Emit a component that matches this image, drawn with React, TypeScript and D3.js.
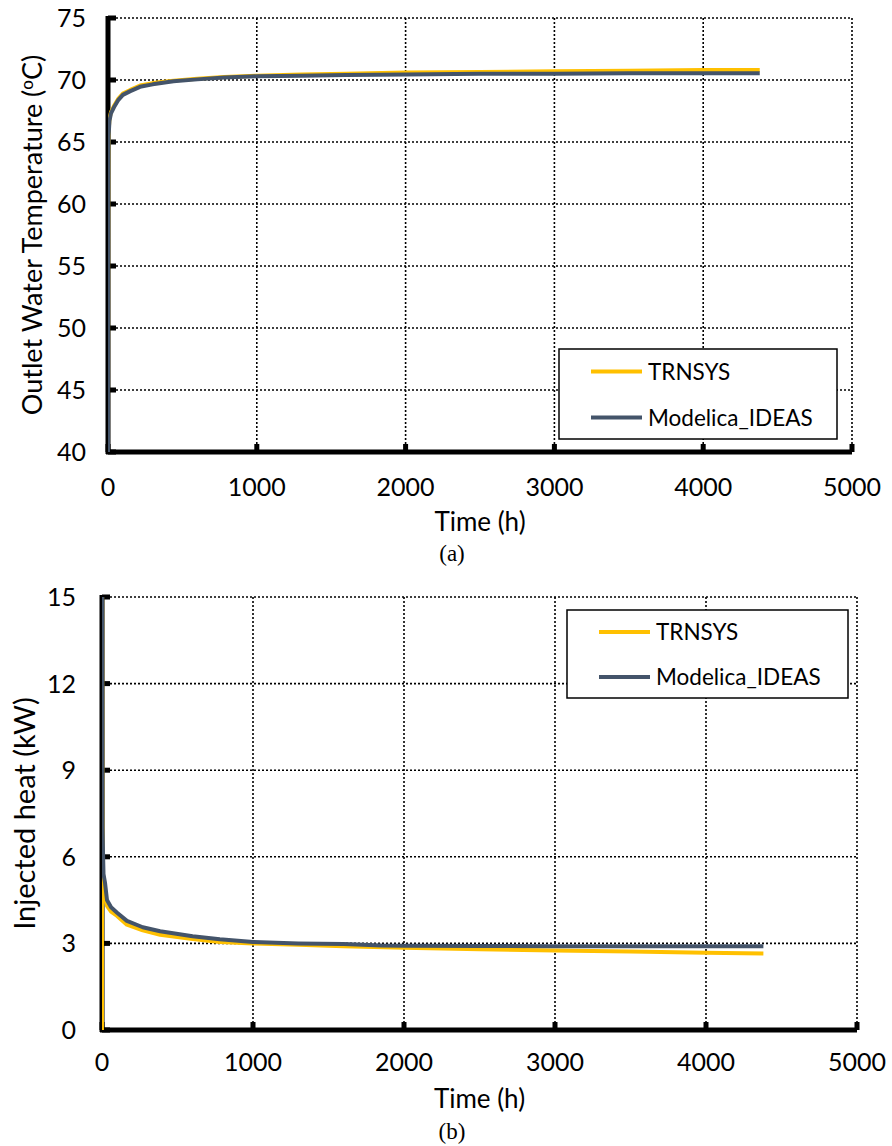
import React from "react";
import * as d3 from "d3";

const timeTicks = [0, 1000, 2000, 3000, 4000, 5000];
const tempTicks = [40, 45, 50, 55, 60, 65, 70, 75];
const heatTicks = [0, 3, 6, 9, 12, 15];
const seriesNames = ["TRNSYS", "Modelica_IDEAS"];
const seriesColors = ["#FFC000", "#44546A"];

// (a) outlet water temperature
const tempTimeTrnsys = [0, 1, 2, 4, 10, 20, 40, 70, 100, 150, 215, 300, 440, 600, 780, 1000, 1300, 1600, 2000, 2500, 3000, 3500, 4000, 4380];
const tempTrnsys = [40, 56, 62.5, 65.8, 66.9, 67.4, 67.9, 68.5, 68.9, 69.2, 69.55, 69.75, 69.95, 70.1, 70.25, 70.35, 70.45, 70.5, 70.6, 70.65, 70.7, 70.75, 70.8, 70.8];
const tempTimeIdeas = [0, 1, 2, 4, 10, 20, 40, 70, 100, 150, 215, 300, 440, 600, 780, 1000, 1300, 1600, 2000, 2500, 3000, 3500, 4000, 4380];
const tempIdeas = [40, 55, 62, 65.5, 66.7, 67.3, 67.8, 68.4, 68.8, 69.1, 69.45, 69.65, 69.9, 70.05, 70.2, 70.3, 70.35, 70.4, 70.45, 70.5, 70.5, 70.55, 70.55, 70.55];

// (b) injected heat
const heatTimeTrnsys = [0, 1, 3, 10, 20, 33, 60, 100, 165, 270, 385, 600, 780, 1000, 1300, 1600, 2000, 2500, 3000, 3500, 4000, 4380];
const heatTrnsys = [0, 15.5, 6, 4.9, 4.6, 4.3, 4.1, 3.95, 3.65, 3.45, 3.3, 3.15, 3.05, 3.0, 2.95, 2.9, 2.85, 2.8, 2.75, 2.72, 2.68, 2.65];
const heatTimeIdeas = [0, 1, 3, 10, 20, 33, 60, 100, 165, 270, 385, 600, 780, 1000, 1300, 1600, 1850, 2000, 2500, 3000, 3500, 4000, 4380];
const heatIdeas = [16, 16, 7, 5.4, 5.1, 4.5, 4.25, 4.06, 3.78, 3.56, 3.42, 3.25, 3.14, 3.05, 3.0, 2.98, 2.93, 2.92, 2.91, 2.9, 2.9, 2.9, 2.9];

const FONT = "Lato, 'Open Sans', sans-serif";

type Series = { t: number[]; v: number[] };

function Panel(props: {
  id: string;
  x0: number; x1: number; y0: number; y1: number;
  yDomain: [number, number];
  yTicks: number[];
  yLabelX: number;
  yTitle: React.ReactNode;
  yTitleX: number;
  yTitleSize: number;
  series: Series[];
  legend: { x: number; y: number; w: number; h: number };
  xLabelY: number;
  xTitleY: number;
  caption: string;
  captionY: number;
}) {
  const { x0, x1, y0, y1 } = props;
  const xs = d3.scaleLinear().domain([0, 5000]).range([x0, x1]);
  const ys = d3.scaleLinear().domain(props.yDomain).range([y1, y0]);
  const line = (s: Series) =>
    d3.line<number>().x((_, i) => xs(s.t[i])).y((d) => ys(d))(s.v) || "";
  const cx = (x0 + x1) / 2;
  const lg = props.legend;
  return (
    <g>
      <defs>
        <clipPath id={props.id}>
          <rect x={x0} y={y0} width={x1 - x0} height={y1 - y0} />
        </clipPath>
      </defs>
      {/* grid */}
      {props.yTicks.filter((t) => t !== props.yDomain[0]).map((t) => (
        <line key={"gy" + t} x1={x0} x2={x1} y1={ys(t)} y2={ys(t)} stroke="#000" strokeWidth={1.6} strokeDasharray="2,2" />
      ))}
      {timeTicks.filter((t) => t !== 0).map((t) => (
        <line key={"gx" + t} x1={xs(t)} x2={xs(t)} y1={y0} y2={y1} stroke="#000" strokeWidth={1.6} strokeDasharray="2,2" />
      ))}
      {/* axes */}
      <line x1={x0} x2={x0} y1={y0 - 2} y2={y1 + 2} stroke="#000" strokeWidth={5} />
      <line x1={x0 - 2} x2={x1} y1={y1} y2={y1} stroke="#000" strokeWidth={5} />
      {props.yTicks.map((t) => (
        <rect key={"ty" + t} x={x0} y={ys(t) - 2.5} width={8} height={5} fill="#000" />
      ))}
      {timeTicks.map((t) => (
        <rect key={"tx" + t} x={xs(t) - 2.5} y={y1 - 8} width={5} height={8} fill="#000" />
      ))}
      {/* data */}
      <g clipPath={`url(#${props.id})`}>
        {props.series.map((s, i) => (
          <path key={i} d={line(s)} fill="none" stroke={seriesColors[i]} strokeWidth={4} strokeLinejoin="round" />
        ))}
      </g>
      {/* tick labels */}
      {props.yTicks.map((t) => (
        <text key={"ly" + t} x={props.yLabelX} y={ys(t)} dy="0.36em" textAnchor="end" fontFamily={FONT} fontSize={25} fill="#000">
          {t}
        </text>
      ))}
      {timeTicks.map((t) => (
        <text key={"lx" + t} x={xs(t)} y={props.xLabelY} textAnchor="middle" fontFamily={FONT} fontSize={25} fill="#000">
          {t}
        </text>
      ))}
      <text x={cx} y={props.xTitleY} textAnchor="middle" fontFamily={FONT} fontSize={26} fill="#000">
        Time (h)
      </text>
      <text x={452} y={props.captionY} textAnchor="middle" fontFamily="'Liberation Serif', 'Times New Roman', serif" fontSize={23} fill="#000">
        {props.caption}
      </text>
      <text transform={`translate(${props.yTitleX},${(y0 + y1) / 2}) rotate(-90)`} textAnchor="middle" fontFamily={FONT} fontSize={props.yTitleSize} fill="#000">
        {props.yTitle}
      </text>
      {/* legend */}
      <rect x={lg.x} y={lg.y} width={lg.w} height={lg.h} fill="#fff" stroke="#000" strokeWidth={1.5} />
      {seriesNames.map((n, i) => {
        const ly = lg.y + lg.h * (i === 0 ? 0.25 : 0.76);
        return (
          <g key={n}>
            <line x1={lg.x + 32} x2={lg.x + 83} y1={ly} y2={ly} stroke={seriesColors[i]} strokeWidth={4} />
            <text x={lg.x + 89} y={ly} dy="0.36em" fontFamily={FONT} fontSize={22.5} fill="#000">
              {n}
            </text>
          </g>
        );
      })}
    </g>
  );
}

export default function App() {
  return (
    <svg width={892} height={1146} style={{ position: "absolute", left: 0, top: 0, background: "#fff" }}>
      <rect width={892} height={1146} fill="#fff" />
      <Panel
        id="clipA"
        x0={108} x1={852} y0={18} y1={452}
        yDomain={[40, 75]}
        yTicks={tempTicks}
        yLabelX={86}
        yTitleX={42}
        yTitleSize={27}
        yTitle={<>Outlet Water Temperature (<tspan dy="-9" fontSize={17}>o</tspan><tspan dy="9">C)</tspan></>}
        series={[{ t: tempTimeTrnsys, v: tempTrnsys }, { t: tempTimeIdeas, v: tempIdeas }]}
        legend={{ x: 559, y: 349, w: 278, h: 90 }}
        xLabelY={496}
        xTitleY={531}
        caption="(a)"
        captionY={561}
      />
      <Panel
        id="clipB"
        x0={102} x1={857} y0={597} y1={1030}
        yDomain={[0, 15]}
        yTicks={heatTicks}
        yLabelX={76}
        yTitleX={35}
        yTitleSize={29}
        yTitle="Injected heat (kW)"
        series={[{ t: heatTimeTrnsys, v: heatTrnsys }, { t: heatTimeIdeas, v: heatIdeas }]}
        legend={{ x: 567, y: 610, w: 281, h: 88 }}
        xLabelY={1071}
        xTitleY={1108}
        caption="(b)"
        captionY={1139}
      />
    </svg>
  );
}
